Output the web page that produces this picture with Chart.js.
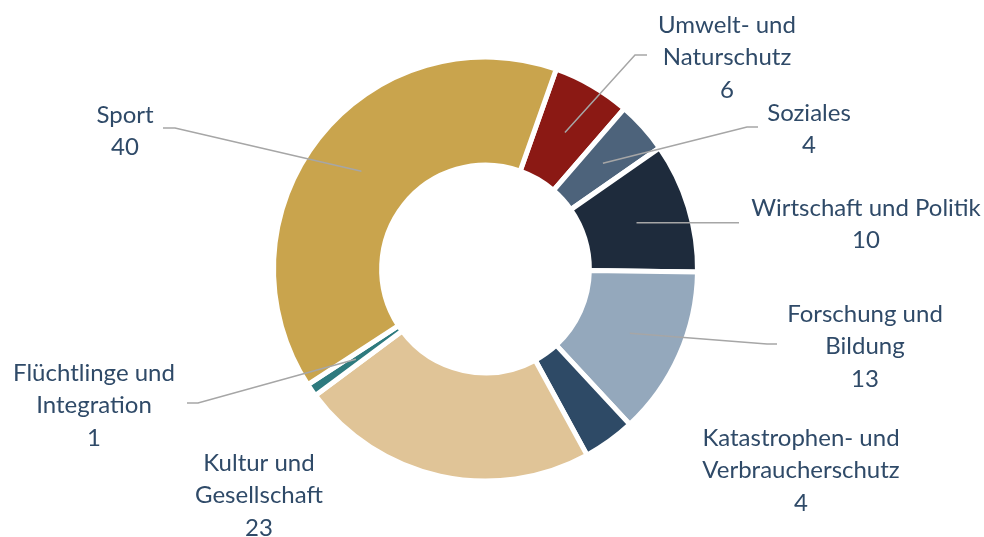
<!DOCTYPE html>
<html>
<head>
<meta charset="utf-8">
<script src="https://cdn.jsdelivr.net/npm/chart.js@4"></script>
<style>
  html, body { margin: 0; padding: 0; background: #fff; }
  #wrap { width: 984px; height: 537px; position: relative; }
</style>
</head>
<body>
<div id="wrap"><canvas id="donut-chart"></canvas></div>
<script>
// categories, clockwise starting after Sport
const categories = [
  ['Umwelt- und', 'Naturschutz'],
  ['Soziales'],
  ['Wirtschaft und Politik'],
  ['Forschung und', 'Bildung'],
  ['Katastrophen- und', 'Verbraucherschutz'],
  ['Kultur und', 'Gesellschaft'],
  ['Flüchtlinge und', 'Integration'],
  ['Sport']
]
const counts = [6, 4, 10, 13, 4, 23, 1, 40]
const colors = ['#8B1914', '#4D637B', '#1E2B3C', '#94A8BC', '#2E4A66', '#E0C497', '#2E7A7E', '#C9A44D']

// label placement: text centre x, first line y, leader end (null = no leader), elbow dir
const labelLayout = [
  { x: 727, y: 25, end: [635, 55], elbow: 12 },
  { x: 809, y: 113, end: [747, 127], elbow: 11 },
  { x: 866, y: 208, end: [739, 223], elbow: 0 },
  { x: 865, y: 314, end: [767, 344], elbow: 10 },
  { x: 801, y: 438, end: null },
  { x: 259, y: 463, end: null },
  { x: 94, y: 373, end: [198, 403], elbow: -11 },
  { x: 125, y: 115, end: [175, 128], elbow: -12 }
]

const textColor = '#2F4A68'
const lineColor = '#A6A6A6'
const lineHeight = 32.5

const labelPlugin = {
  id: 'outsideLabels',
  afterDatasetsDraw(chart) {
    const ctx = chart.ctx
    const arcs = chart.getDatasetMeta(0).data
    ctx.save()
    arcs.forEach((arc, i) => {
      const lay = labelLayout[i]
      if (lay.end) {
        const p = arc.tooltipPosition()
        ctx.beginPath()
        ctx.strokeStyle = lineColor
        ctx.lineWidth = 1.5
        ctx.moveTo(p.x, p.y)
        if (lay.elbow === 0) {
          ctx.lineTo(lay.end[0], p.y)
        } else {
          ctx.lineTo(lay.end[0], lay.end[1])
          ctx.lineTo(lay.end[0] + lay.elbow, lay.end[1])
        }
        ctx.stroke()
      }
      ctx.fillStyle = textColor
      ctx.font = '24px Lato'
      ctx.textAlign = 'center'
      ctx.textBaseline = 'middle'
      const lines = categories[i].concat([String(counts[i])])
      lines.forEach((t, k) => ctx.fillText(t, lay.x, lay.y + k * lineHeight))
    })
    ctx.restore()
  }
}

const donutCanvas = document.getElementById('donut-chart')
let donutChart = new Chart(donutCanvas, {
  type: 'doughnut',
  data: {
    labels: categories,
    datasets: [{
      data: counts,
      backgroundColor: colors,
      borderColor: '#ffffff',
      borderWidth: 5
    }]
  },
  options: {
    responsive: true,
    maintainAspectRatio: false,
    animation: false,
    rotation: 19.5,
    cutout: '49%',
    layout: {
      padding: { top: 54, bottom: 53, left: 271, right: 284 }
    },
    plugins: {
      legend: { display: false },
      tooltip: { enabled: false }
    }
  },
  plugins: [labelPlugin]
})
</script>
</body>
</html>
